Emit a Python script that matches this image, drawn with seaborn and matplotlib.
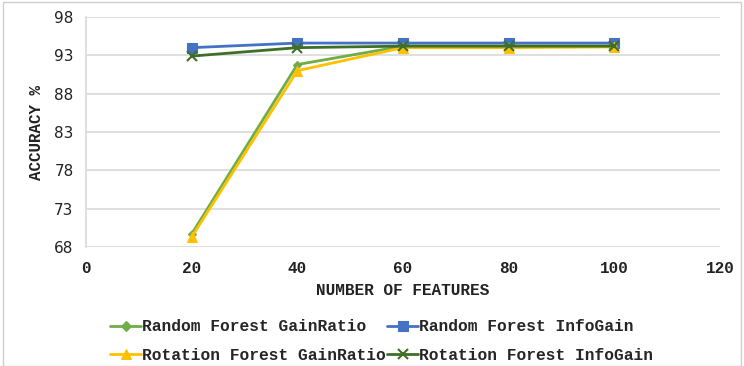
import numpy as np
import pandas as pd
import seaborn as sns
import matplotlib.pyplot as plt
from matplotlib.lines import Line2D
from matplotlib.patches import Rectangle

features = [20, 40, 60, 80, 100]
rf_gainratio = [69.7, 91.8, 94.2, 94.2, 94.2]
rf_infogain = [94.0, 94.6, 94.6, 94.6, 94.6]
rot_gainratio = [69.3, 91.0, 94.0, 94.0, 94.1]
rot_infogain = [92.9, 94.0, 94.2, 94.2, 94.2]

series_names = ["Random Forest GainRatio", "Random Forest InfoGain",
                "Rotation Forest GainRatio", "Rotation Forest InfoGain"]
series_values = [rf_gainratio, rf_infogain, rot_gainratio, rot_infogain]
colors = ["#70AD47", "#4472C4", "#FFC000", "#3F6F26"]
markers = ["D", "s", "^", "x"]
msizes = [4.5, 7.5, 7.5, 6.5]

x_ticks = [0, 20, 40, 60, 80, 100, 120]
y_ticks = [68, 73, 78, 83, 88, 93, 98]

df = pd.DataFrame({
    "features": np.tile(features, len(series_names)),
    "accuracy": np.concatenate(series_values),
    "series": np.repeat(series_names, len(features)),
})

sns.set_theme(style="white")
fig = plt.figure(figsize=(7.44, 3.66), dpi=100)
ax = fig.add_axes([86 / 744, 1 - 247 / 366, (720 - 86) / 744, (247 - 17) / 366])

for name, c, m, ms in zip(series_names, colors, markers, msizes):
    sub = df[df["series"] == name]
    sns.lineplot(data=sub, x="features", y="accuracy", ax=ax, color=c,
                 marker=m, markersize=ms, linewidth=2.0,
                 markeredgecolor=c, markerfacecolor=c,
                 markeredgewidth=1.5 if m == "x" else 0.8, legend=False)

ax.set_xlim(0, 120)
ax.set_ylim(68, 98)
ax.set_xticks(x_ticks)
ax.set_yticks(y_ticks)
ax.yaxis.grid(True, color="#d9d9d9", linewidth=1.2)
ax.xaxis.grid(False)
for s in ["top", "right", "bottom"]:
    ax.spines[s].set_visible(False)
ax.spines["left"].set_color("#d9d9d9")
ax.spines["left"].set_linewidth(1.2)
ax.tick_params(axis="both", length=0)
ax.tick_params(axis="y", pad=9)
ax.tick_params(axis="x", pad=10)
for lbl in ax.get_yticklabels():
    lbl.set_fontfamily("DejaVu Sans")
    lbl.set_fontsize(11)
    lbl.set_color("#222222")
for lbl in ax.get_xticklabels():
    lbl.set_fontfamily("Liberation Mono")
    lbl.set_fontweight("bold")
    lbl.set_fontsize(11.5)
    lbl.set_color("#222222")

mono = dict(family="Liberation Mono", weight="bold", color="#222222")
ax.set_xlabel("NUMBER OF FEATURES", fontsize=11.6, labelpad=5, **mono)
ax.set_ylabel("ACCURACY %", fontsize=11.4, labelpad=7, **mono)

handles = [Line2D([0], [0], color=c, marker=m, markersize=ms * 1.05, linewidth=2.0,
                  markeredgecolor=c, markerfacecolor=c,
                  markeredgewidth=1.5 if m == "x" else 0.8)
           for c, m, ms in zip(colors, markers, msizes)]
# two rows: GainRatio/InfoGain for Random Forest, then Rotation Forest
order = [0, 2, 1, 3]
fig.legend([handles[i] for i in order], [series_names[i] for i in order],
           loc="center", bbox_to_anchor=(0.513, 0.068),
           ncol=2, frameon=False, handlelength=1.9, handletextpad=0.05,
           columnspacing=0.1, labelspacing=0.85,
           prop=dict(family="Liberation Mono", weight="bold", size=11.7))

fig.patches.append(Rectangle((0.004, 0.0), 0.992, 0.994, transform=fig.transFigure,
                             fill=False, edgecolor="#cfcfcf", linewidth=1.0))

fig.savefig("out.png", dpi=100)
